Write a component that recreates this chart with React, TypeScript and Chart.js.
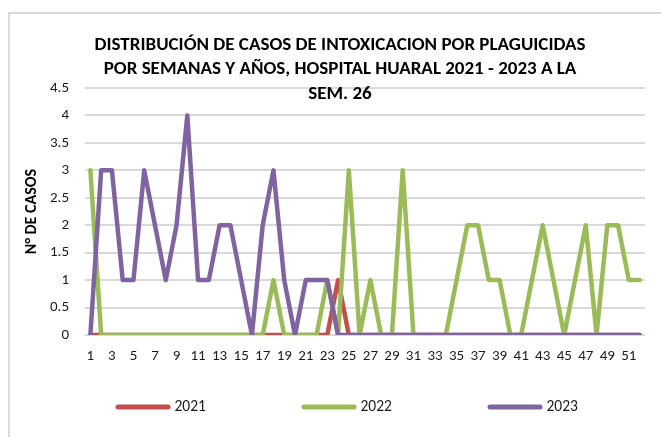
import React, { useEffect, useRef } from "react";
import { Chart, registerables } from "chart.js";

Chart.register(...registerables);

// ---- data ----
const weeks = [
  "1", "2", "3", "4", "5", "6", "7", "8", "9", "10",
  "11", "12", "13", "14", "15", "16", "17", "18", "19", "20",
  "21", "22", "23", "24", "25", "26", "27", "28", "29", "30",
  "31", "32", "33", "34", "35", "36", "37", "38", "39", "40",
  "41", "42", "43", "44", "45", "46", "47", "48", "49", "50",
  "51", "52",
];

const cases2021 = [
  0, 0, 0, 0, 0, 0, 0, 0, 0, 0,
  0, 0, 0, 0, 0, 0, 0, 0, 0, 0,
  0, 0, 0, 1, 0, 0, 0, 0, 0, 0,
  0, 0, 0, 0, 0, 0, 0, 0, 0, 0,
  0, 0, 0, 0, 0, 0, 0, 0, 0, 0,
  0, 0,
];

const cases2022 = [
  3, 0, 0, 0, 0, 0, 0, 0, 0, 0,
  0, 0, 0, 0, 0, 0, 0, 1, 0, 0,
  0, 0, 1, 0, 3, 0, 1, 0, 0, 3,
  0, 0, 0, 0, 1, 2, 2, 1, 1, 0,
  0, 1, 2, 1, 0, 1, 2, 0, 2, 2,
  1, 1,
];

const cases2023 = [
  0, 3, 3, 1, 1, 3, 2, 1, 2, 4,
  1, 1, 2, 2, 1, 0, 2, 3, 1, 0,
  1, 1, 1, 0, 0, 0, 0, 0, 0, 0,
  0, 0, 0, 0, 0, 0, 0, 0, 0, 0,
  0, 0, 0, 0, 0, 0, 0, 0, 0, 0,
  0, 0,
];

const seriesLabels = ["2021", "2022", "2023"];

const titleLines = [
  "DISTRIBUCIÓN DE CASOS DE INTOXICACION POR PLAGUICIDAS",
  "POR SEMANAS Y AÑOS, HOSPITAL HUARAL 2021 - 2023 A LA",
  "SEM. 26",
];
const yAxisTitle = "N° DE CASOS";

// ---- styles ----
const FONT = "Carlito, Lato, sans-serif";
const RED = "#C0504D";
const GREEN = "#9BBB59";
const PURPLE = "#8064A2";
const GRID = "#d9d9d9";
const TEXT = "#1a1a1a";
const colorByLabel: Record<string, string> = { "2021": RED, "2022": GREEN, "2023": PURPLE };

const lineLegend = {
  id: "lineLegend",
  afterDraw(chart: any) {
    const ctx = chart.ctx as CanvasRenderingContext2D;
    const y = 407;
    const startX = 115.5;
    const pitch = 186;
    const sample = 55;
    ctx.save();
    ctx.font = `15.5px ${FONT}`;
    ctx.textBaseline = "middle";
    ctx.textAlign = "left";
    seriesLabels.forEach((label, i) => {
      const x = startX + i * pitch;
      ctx.strokeStyle = colorByLabel[label];
      ctx.lineWidth = 5;
      ctx.lineCap = "round";
      ctx.beginPath();
      ctx.moveTo(x + 2.5, y);
      ctx.lineTo(x + sample - 2.5, y);
      ctx.stroke();
      ctx.fillStyle = TEXT;
      ctx.fillText(label, x + sample + 4, y);
    });
    ctx.restore();
  },
};

export default function App() {
  const ref = useRef<HTMLCanvasElement>(null);

  useEffect(() => {
    if (!ref.current) return;
    const lineStyle = {
      borderWidth: 4.5,
      pointRadius: 0,
      pointHoverRadius: 0,
      tension: 0,
      fill: false,
      borderCapStyle: "round" as const,
      borderJoinStyle: "round" as const,
    };
    const chart = new Chart(ref.current, {
      type: "line",
      data: {
        labels: weeks,
        datasets: [
          { label: "2023", data: cases2023, borderColor: PURPLE, backgroundColor: PURPLE, ...lineStyle },
          { label: "2022", data: cases2022, borderColor: GREEN, backgroundColor: GREEN, ...lineStyle },
          { label: "2021", data: cases2021, borderColor: RED, backgroundColor: RED, ...lineStyle },
        ],
      },
      options: {
        responsive: false,
        animation: false,
        devicePixelRatio: 1,
        layout: { padding: 0 },
        plugins: {
          legend: { display: false },
          tooltip: { enabled: false },
          title: {
            display: true,
            text: titleLines,
            color: "#000",
            font: { family: FONT, size: 19, weight: "bold", lineHeight: 24.5 / 19 },
            padding: { top: 32.75, bottom: -18.25 },
          },
        },
        scales: {
          x: {
            type: "category",
            offset: true,
            grid: { display: false, drawTicks: false },
            border: { display: false },
            ticks: {
              autoSkip: false,
              maxRotation: 0,
              minRotation: 0,
              padding: 12.5,
              color: TEXT,
              font: { family: FONT, size: 15 },
              callback: (_v: any, i: number) => (i % 2 === 0 ? weeks[i] : ""),
            },
            afterFit: (s: any) => {
              s.height = 102;
            },
          },
          y: {
            min: 0,
            max: 4.5,
            ticks: {
              stepSize: 0.5,
              padding: 16,
              color: TEXT,
              font: { family: FONT, size: 15 },
              callback: (v: any) => String(Number(v)),
            },
            grid: { color: GRID, lineWidth: 2, drawTicks: false },
            border: { display: false },
            title: {
              display: true,
              text: yAxisTitle,
              color: "#000",
              font: { family: FONT, size: 16, weight: "bold" },
              padding: { top: 22, bottom: 0 },
            },
            afterFit: (s: any) => {
              s.width = 85;
            },
          },
          yRight: {
            type: "linear",
            position: "right",
            display: true,
            grid: { display: false, drawTicks: false },
            border: { display: false },
            ticks: { display: false },
            afterFit: (s: any) => {
              s.width = 35;
            },
          },
        },
      },
      plugins: [lineLegend],
    });
    return () => chart.destroy();
  }, []);

  return (
    <div style={{ position: "absolute", left: 0, top: 0, width: 661, height: 437, overflow: "hidden", background: "#fff" }}>
      <div
        style={{
          position: "absolute",
          left: 8,
          top: 12,
          width: 700,
          height: 500,
          borderLeft: `2px solid ${GRID}`,
          borderTop: `2px solid ${GRID}`,
        }}
      />
      <canvas ref={ref} width={680} height={437} style={{ position: "absolute", left: 0, top: 0, display: "block" }} />
    </div>
  );
}
